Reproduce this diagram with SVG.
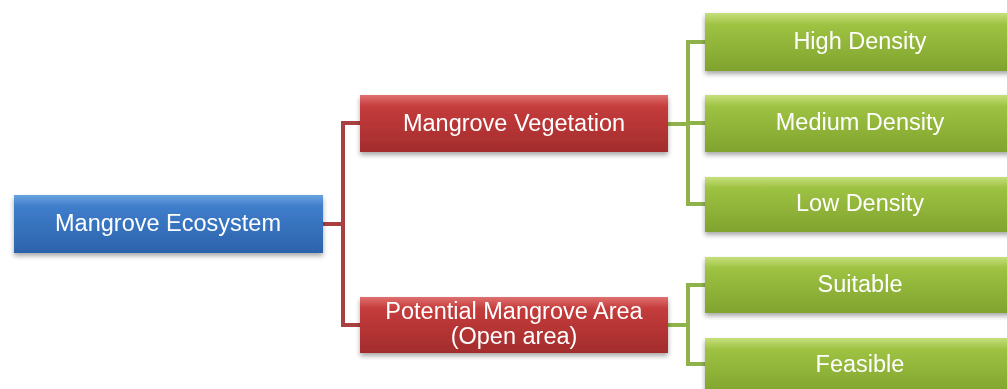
<svg xmlns="http://www.w3.org/2000/svg" width="1007" height="389" viewBox="0 0 1007 389">
<style>
.t{font-family:"Liberation Sans",Arial,sans-serif;font-size:23.5px;fill:#ffffff;text-anchor:middle}
.rc{fill:none;stroke:#a8403f;stroke-width:4}
.gc{fill:none;stroke:#8fb24a;stroke-width:4}
</style>
<defs>
<linearGradient id="gb" x1="0" y1="0" x2="0" y2="1">
<stop offset="0" stop-color="#6aa3e0"/><stop offset="0.2" stop-color="#3f7dcb"/><stop offset="1" stop-color="#2c63ab"/>
</linearGradient>
<linearGradient id="gr" x1="0" y1="0" x2="0" y2="1">
<stop offset="0" stop-color="#e07070"/><stop offset="0.2" stop-color="#c53c3c"/><stop offset="1" stop-color="#a32c2c"/>
</linearGradient>
<linearGradient id="gg" x1="0" y1="0" x2="0" y2="1">
<stop offset="0" stop-color="#c6df7c"/><stop offset="0.2" stop-color="#9ec242"/><stop offset="1" stop-color="#80a32e"/>
</linearGradient>
<filter id="sh" x="-5%" y="-20%" width="110%" height="150%">
<feGaussianBlur in="SourceAlpha" stdDeviation="2.5"/>
<feOffset dy="3"/>
<feComponentTransfer><feFuncA type="linear" slope="0.35"/></feComponentTransfer>
<feMerge><feMergeNode/><feMergeNode in="SourceGraphic"/></feMerge>
</filter>
</defs>
<rect width="1007" height="389" fill="#ffffff"/>
<g id="connectors">
<path class="rc" d="M323 224 H343 M362 123 H343 V325 H362"/>
<path class="gc" d="M668 124 H688 M707 42 H688 V204 H707 M688 123 H707"/>
<path class="gc" d="M668 325 H688 M707 285 H688 V364 H707"/>
</g>
<g id="n-ecosystem" filter="url(#sh)">
<rect x="14" y="195" width="309" height="58" fill="url(#gb)"/>
<text class="t" x="168" y="231">Mangrove Ecosystem</text>
</g>
<g id="n-vegetation" filter="url(#sh)">
<rect x="360" y="95" width="308" height="57" fill="url(#gr)"/>
<text class="t" x="514" y="131">Mangrove Vegetation</text>
</g>
<g id="n-potential" filter="url(#sh)">
<rect x="360" y="297" width="308" height="56" fill="url(#gr)"/>
<text class="t" x="514" y="319">Potential Mangrove Area</text>
<text class="t" x="514" y="344">(Open area)</text>
</g>
<g id="n-high" filter="url(#sh)">
<rect x="705" y="13" width="310" height="58" fill="url(#gg)"/>
<text class="t" x="860" y="49">High Density</text>
</g>
<g id="n-medium" filter="url(#sh)">
<rect x="705" y="95" width="310" height="57" fill="url(#gg)"/>
<text class="t" x="860" y="130">Medium Density</text>
</g>
<g id="n-low" filter="url(#sh)">
<rect x="705" y="177" width="310" height="55" fill="url(#gg)"/>
<text class="t" x="860" y="211">Low Density</text>
</g>
<g id="n-suitable" filter="url(#sh)">
<rect x="705" y="257" width="310" height="56" fill="url(#gg)"/>
<text class="t" x="860" y="292">Suitable</text>
</g>
<g id="n-feasible" filter="url(#sh)">
<rect x="705" y="338" width="310" height="56" fill="url(#gg)"/>
<text class="t" x="860" y="372">Feasible</text>
</g>
</svg>
